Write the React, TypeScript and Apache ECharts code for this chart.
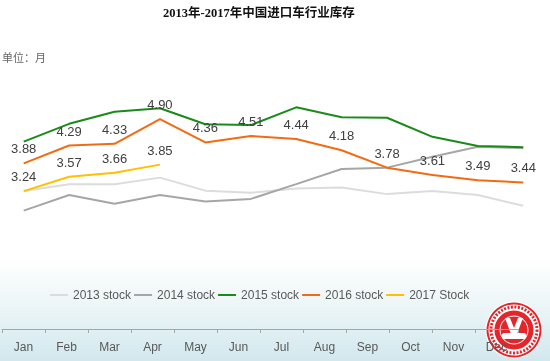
import React, { useEffect, useRef } from "react";
import * as echarts from "echarts";

const months = ["Jan", "Feb", "Mar", "Apr", "May", "Jun", "Jul", "Aug", "Sep", "Oct", "Nov", "Dec"];
const stock2013 = [3.24, 3.4, 3.4, 3.55, 3.25, 3.2, 3.3, 3.32, 3.17, 3.24, 3.15, 2.9];
const stock2014 = [2.79, 3.15, 2.95, 3.15, 3.0, 3.06, 3.4, 3.75, 3.78, 4.03, 4.26, 4.23];
const stock2015 = [4.38, 4.79, 5.07, 5.15, 4.78, 4.76, 5.17, 4.94, 4.93, 4.49, 4.28, 4.25];
const stock2016 = [3.88, 4.29, 4.33, 4.9, 4.36, 4.51, 4.44, 4.18, 3.78, 3.61, 3.49, 3.44];
const stock2017 = [3.24, 3.57, 3.66, 3.85];

const seriesNames = ["2013 stock", "2014 stock", "2015 stock", "2016 stock", "2017 Stock"];
const seriesColors = ["#dcdcdc", "#a6a6a6", "#1a8a1a", "#f26b12", "#ffc000"];

export default function App() {
  const ref = useRef<HTMLDivElement>(null);
  useEffect(() => {
    if (!ref.current) return;
    const chart = echarts.init(ref.current, null, { renderer: "svg" });
    const dataSets = [stock2013, stock2014, stock2015, stock2016, stock2017];
    const labelled = [false, false, false, true, true];
    const series = dataSets.map((d, i) => ({
      name: seriesNames[i],
      type: "line",
      xAxisIndex: 0,
      yAxisIndex: 0,
      data: d,
      symbol: "circle",
      symbolSize: 0.01,
      showSymbol: true,
      lineStyle: { width: 2, color: seriesColors[i] },
      itemStyle: { color: seriesColors[i] },
      label: {
        show: labelled[i],
        position: "top",
        distance: 8,
        fontSize: 13,
        fontFamily: "'Liberation Sans', Arial, sans-serif",
        color: "#404040",
        formatter: (p: any) => Number(p.value).toFixed(2),
      },
      z: 2 + i,
    }));
    chart.setOption({
      animation: false,
      graphic: [
        {
          type: "rect",
          z: -10,
          silent: true,
          shape: { x: 0, y: 0, width: 550, height: 361 },
          style: {
            fill: new echarts.graphic.LinearGradient(0, 0, 0, 1, [
              { offset: 0, color: "#ffffff" },
              { offset: 0.72, color: "#ffffff" },
              { offset: 0.86, color: "#eaf4f6" },
              { offset: 1, color: "#d2e8ee" },
            ]),
          },
        },
        {
          type: "text",
          left: 163,
          top: 7,
          style: {
            text: "2013年-2017年中国进口车行业库存",
            font: "bold 12.5px 'Liberation Serif', 'Noto Sans CJK SC', serif",
            fill: "#111",
          },
        },
        {
          type: "line",
          shape: { x1: 0, y1: 27, x2: 550, y2: 27 },
          style: {
            lineWidth: 1.5,
            stroke: new echarts.graphic.LinearGradient(0, 0, 1, 0, [
              { offset: 0, color: "#444" },
              { offset: 0.15, color: "#555" },
              { offset: 0.16, color: "#999" },
              { offset: 0.8, color: "#999" },
              { offset: 0.82, color: "#555" },
              { offset: 1, color: "#444" },
            ]),
          },
        },
        {
          type: "text",
          left: 2,
          top: 51,
          style: {
            text: "单位：月",
            font: "11px 'Noto Sans CJK SC', serif",
            fill: "#666",
          },
        },
        {
          type: "group",
          x: 514,
          y: 330,
          z: 100,
          children: [
            { type: "circle", shape: { cx: 0, cy: 0, r: 28.5 }, style: { fill: "#fff" } },
            { type: "circle", shape: { cx: 0, cy: 0, r: 27.5 }, style: { fill: "#e3262b" } },
            { type: "circle", shape: { cx: 0, cy: 0, r: 25.5 }, style: { fill: "#fff" } },
            { type: "circle", shape: { cx: 0, cy: 0, r: 23 }, style: { fill: "none", stroke: "#e3262b", lineWidth: 3, lineDash: [2, 1.5] } },
            { type: "circle", shape: { cx: 0, cy: 0, r: 19.5 }, style: { fill: "#e3262b" } },
            { type: "circle", shape: { cx: 0, cy: 0, r: 14 }, style: { fill: "none", stroke: "#fff", lineWidth: 1 } },
            {
              type: "polygon",
              shape: { points: [[-9, -12], [-4, -12], [0, -2], [4, -12], [9, -12], [3, 4], [-3, 4]] },
              style: { fill: "#fff" },
            },
            { type: "rect", shape: { x: -12, y: 3, width: 24, height: 6, r: 2 }, style: { fill: "#fff" } },
          ],
        },
      ],
      legend: {
        left: 45,
        top: 284,
        icon: "rect",
        itemWidth: 18,
        itemHeight: 2,
        itemGap: 3,
        data: seriesNames,
        textStyle: {
          fontSize: 12,
          fontFamily: "'Liberation Sans', Arial, sans-serif",
          color: "#595959",
        },
      },
      grid: [
        { left: 1, width: 545, top: 71.3, height: 173.6 },
        { left: 2, width: 516, top: 300, height: 29 },
      ],
      xAxis: [
        {
          type: "category",
          gridIndex: 0,
          data: months,
          boundaryGap: true,
          show: false,
        },
        {
          type: "category",
          gridIndex: 1,
          data: months,
          boundaryGap: true,
          axisLine: { show: true, lineStyle: { color: "#a6a6a6", width: 1 } },
          axisTick: { show: true, length: 4, lineStyle: { color: "#a6a6a6" } },
          axisLabel: {
            margin: 12,
            fontSize: 12,
            fontFamily: "'Liberation Sans', Arial, sans-serif",
            color: "#595959",
            interval: 0,
          },
        },
      ],
      yAxis: [
        { type: "value", gridIndex: 0, min: 2, max: 6, show: false },
        { type: "value", gridIndex: 1, min: 0, max: 1, show: false },
      ],
      series,
    });
    return () => chart.dispose();
  }, []);
  return <div ref={ref} style={{ position: "fixed", left: 0, top: 0, width: 550, height: 361 }} />;
}
